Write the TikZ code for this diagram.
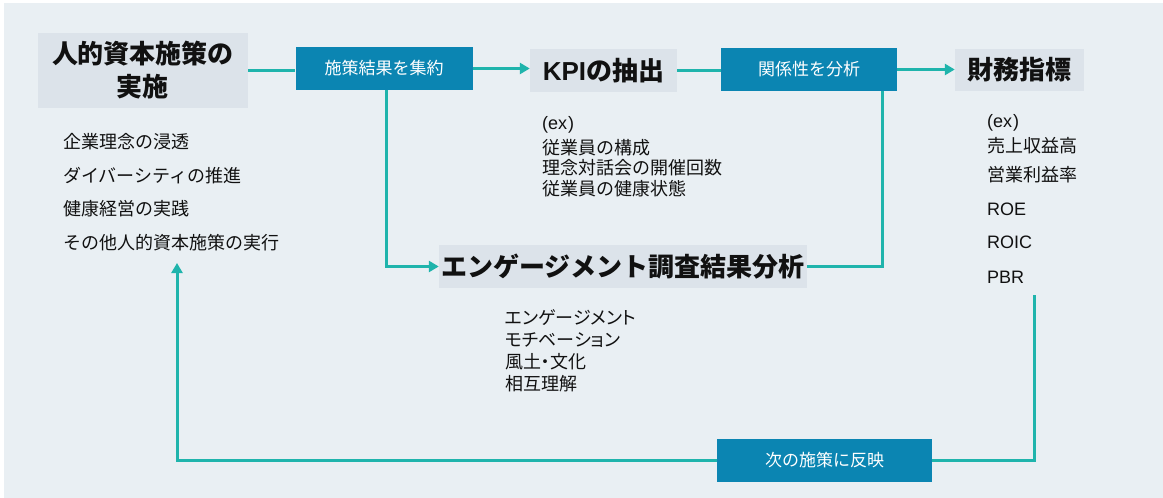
\documentclass[tikz,border=0pt]{standalone}
\usepackage{fontspec}
\setmainfont{Noto Sans CJK JP}
\newfontfamily\lat{Liberation Sans}
\newfontfamily\jpprop{Noto Sans CJK JP}[RawFeature=+palt]
\usetikzlibrary{arrows.meta}
\definecolor{bg}{HTML}{E9EFF3}
\definecolor{teal}{HTML}{1FB4AC}
\definecolor{boxblue}{HTML}{0B85B2}
\definecolor{boxgray}{HTML}{DCE3EA}
\definecolor{ink}{HTML}{111111}
\tikzset{
  titlebox/.style={fill=boxgray, text=ink, inner sep=0pt, font=\fontsize{26}{33}\selectfont\bfseries, align=center},
  actbox/.style={fill=boxblue, text=white, inner sep=0pt, minimum height=43pt, font=\fontsize{17}{20}\selectfont},
  item/.style={anchor=west, inner sep=0pt, text=ink, font=\fontsize{18}{22}\selectfont},
  propitem/.style={anchor=west, inner sep=0pt, text=ink, font=\jpprop\fontsize{18}{22}\selectfont},
  conn/.style={draw=teal, line width=3pt},
  arr/.style={conn, -{Triangle[length=10pt,width=11pt]}},
}
\begin{document}
\begin{tikzpicture}[x=1pt,y=-1pt]
\useasboundingbox (0,0) rectangle (1163,498);
\fill[white] (0,0) rectangle (1163,498);
\fill[bg] (4,3) rectangle (1163,498);

% title boxes
\node[titlebox, minimum width=210pt, minimum height=75pt] (A) at (143,70.5) {人的資本施策の\\実施};
\node[titlebox, minimum width=147pt, minimum height=43pt] (K) at (603.5,70.5) {{\lat\bfseries KPI}の抽出};
\node[titlebox, minimum width=129pt, minimum height=42pt] (F) at (1019.5,70) {財務指標};
\node[titlebox, minimum width=368pt, minimum height=43pt] (E) at (623,266.5) {エンゲージメント調査結果分析};

% action boxes
\node[actbox, minimum width=177pt] (B) at (384,68.5) {施策結果を集約};
\node[actbox, minimum width=176pt] (C) at (809,69.5) {関係性を分析};
\node[actbox, minimum width=215pt] (D) at (824.5,460.5) {次の施策に反映};

% left list
\node[item] (a1) at (63,142) {企業理念の浸透};
\node[item] (a2) at (63,175.5) {ダイバーシティの推進};
\node[item] (a3) at (63,209) {健康経営の実践};
\node[item] (a4) at (63,243) {その他人的資本施策の実行};

% KPI list
\node[item] (k0) at (542,125) {{\lat (ex\hspace{1pt})}};
\node[item] (k1) at (542,147.5) {従業員の構成};
\node[item] (k2) at (542,168) {理念対話会の開催回数};
\node[item] (k3) at (542,189) {従業員の健康状態};

% finance list
\node[item] (f0) at (987,123) {{\lat (ex\hspace{1pt})}};
\node[item] (f1) at (987,145.5) {売上収益高};
\node[item] (f2) at (987,175) {営業利益率};
\node[item] (f3) at (987,209) {\lat ROE};
\node[item] (f4) at (987,242.5) {\lat ROIC};
\node[item] (f5) at (987,277) {\lat PBR};

% engagement list
\node[propitem] (e1) at (505,318) {エンゲージメント};
\node[propitem] (e2) at (505,340) {モチベーション};
\node[propitem] (e3) at (505,362) {風土・文化};
\node[propitem] (e4) at (505,384) {相互理解};

% free ends
\coordinate (pbr) at (1034,295);
\coordinate (tip) at (177,263);
\coordinate (up) at (882,91);
\coordinate (bdown) at (386,90);

% connectors
\draw[conn] (A.east) -- (A.east -| B.west);
\draw[arr] (B.east) -- (B.east -| K.west);
\draw[arr] (bdown) |- (E.west);
\draw[conn] (K.east) -- (K.east -| C.west);
\draw[arr] (C.east) -- (C.east -| F.west);
\draw[conn] (E.east) -| (up);
\draw[conn] (pbr) |- (D.east);
\draw[arr] (D.west) -| (tip);
\end{tikzpicture}
\end{document}
